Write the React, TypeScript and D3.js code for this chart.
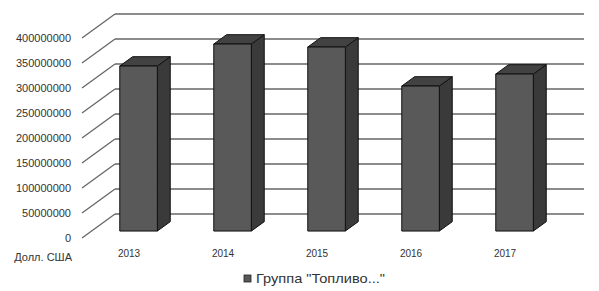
import React from 'react';
import * as d3 from 'd3';

const years = ['2013', '2014', '2015', '2016', '2017'];
const values = [330000000, 374000000, 368000000, 290000000, 314000000];
const yTicks = [0, 50000000, 100000000, 150000000, 200000000, 250000000, 300000000, 350000000, 400000000];
const seriesName = 'Группа "Топливо..."';
const unitLabel = 'Долл. США';

const width = 599;
const height = 291;
const font = '"Liberation Sans", Arial, sans-serif';

// 3D wall depth offset
const depthX = 33;
const depthY = -24;
const wallLeft = 82;
const wallRight = 584;
// bars sit partly into the depth
const barFront = 0.29;
const barDepth = 0.39;

const App: React.FC = () => {
  const y = d3.scaleLinear().domain([0, 400000000]).range([238, 38]);
  const x = d3.scaleBand<string>().domain(years).range([91, 561]).paddingInner(0.6).paddingOuter(0.3);

  const bx = barFront * depthX;
  const by = barFront * depthY;
  const dx = barDepth * depthX;
  const dy = barDepth * depthY;
  const bw = x.bandwidth();

  return (
    <svg width={width} height={height} style={{ position: 'absolute', left: 0, top: 0, background: '#fff' }}>
      {/* left wall diagonals and back wall lines */}
      {yTicks.map(t => (
        <g key={t}>
          <line x1={wallLeft} y1={y(t)} x2={wallLeft + depthX} y2={y(t) + depthY} stroke="#666" strokeWidth={1.3} />
          <line x1={wallLeft + depthX} y1={y(t) + depthY} x2={wallRight} y2={y(t) + depthY} stroke="#666" strokeWidth={1.3} />
          <text x={71} y={y(t) + 4} textAnchor="end" fontFamily={font} fontSize={11} fill="#333">{t}</text>
        </g>
      ))}
      <text x={72} y={261} textAnchor="end" fontFamily={font} fontSize={11} fill="#333">{unitLabel}</text>

      {/* bars */}
      {years.map((yr, i) => {
        const x0 = (x(yr) as number) + bx - 9;
        const yb = y(0) + by;
        const yt = y(values[i]) + by;
        const x1 = x0 + bw;
        return (
          <g key={yr} stroke="#111" strokeWidth={1} strokeLinejoin="round">
            <polygon points={`${x1},${yt} ${x1 + dx},${yt + dy} ${x1 + dx},${yb + dy} ${x1},${yb}`} fill="#3a3a3a" />
            <polygon points={`${x0},${yt} ${x0 + dx},${yt + dy} ${x1 + dx},${yt + dy} ${x1},${yt}`} fill="#424242" />
            <rect x={x0} y={yt} width={bw} height={yb - yt} fill="#595959" />
          </g>
        );
      })}

      {years.map(yr => (
        <text key={yr} x={(x(yr) as number) + bw / 2 - 9} y={257} textAnchor="middle" fontFamily={font} fontSize={10} fill="#333">{yr}</text>
      ))}

      {/* legend */}
      <rect x={244} y={275} width={7} height={7} fill="#595959" stroke="#222" strokeWidth={0.8} />
      <text x={256} y={283} fontFamily={font} fontSize={13} textLength={129} lengthAdjust="spacingAndGlyphs" fill="#333">{seriesName}</text>
    </svg>
  );
};

export default App;
